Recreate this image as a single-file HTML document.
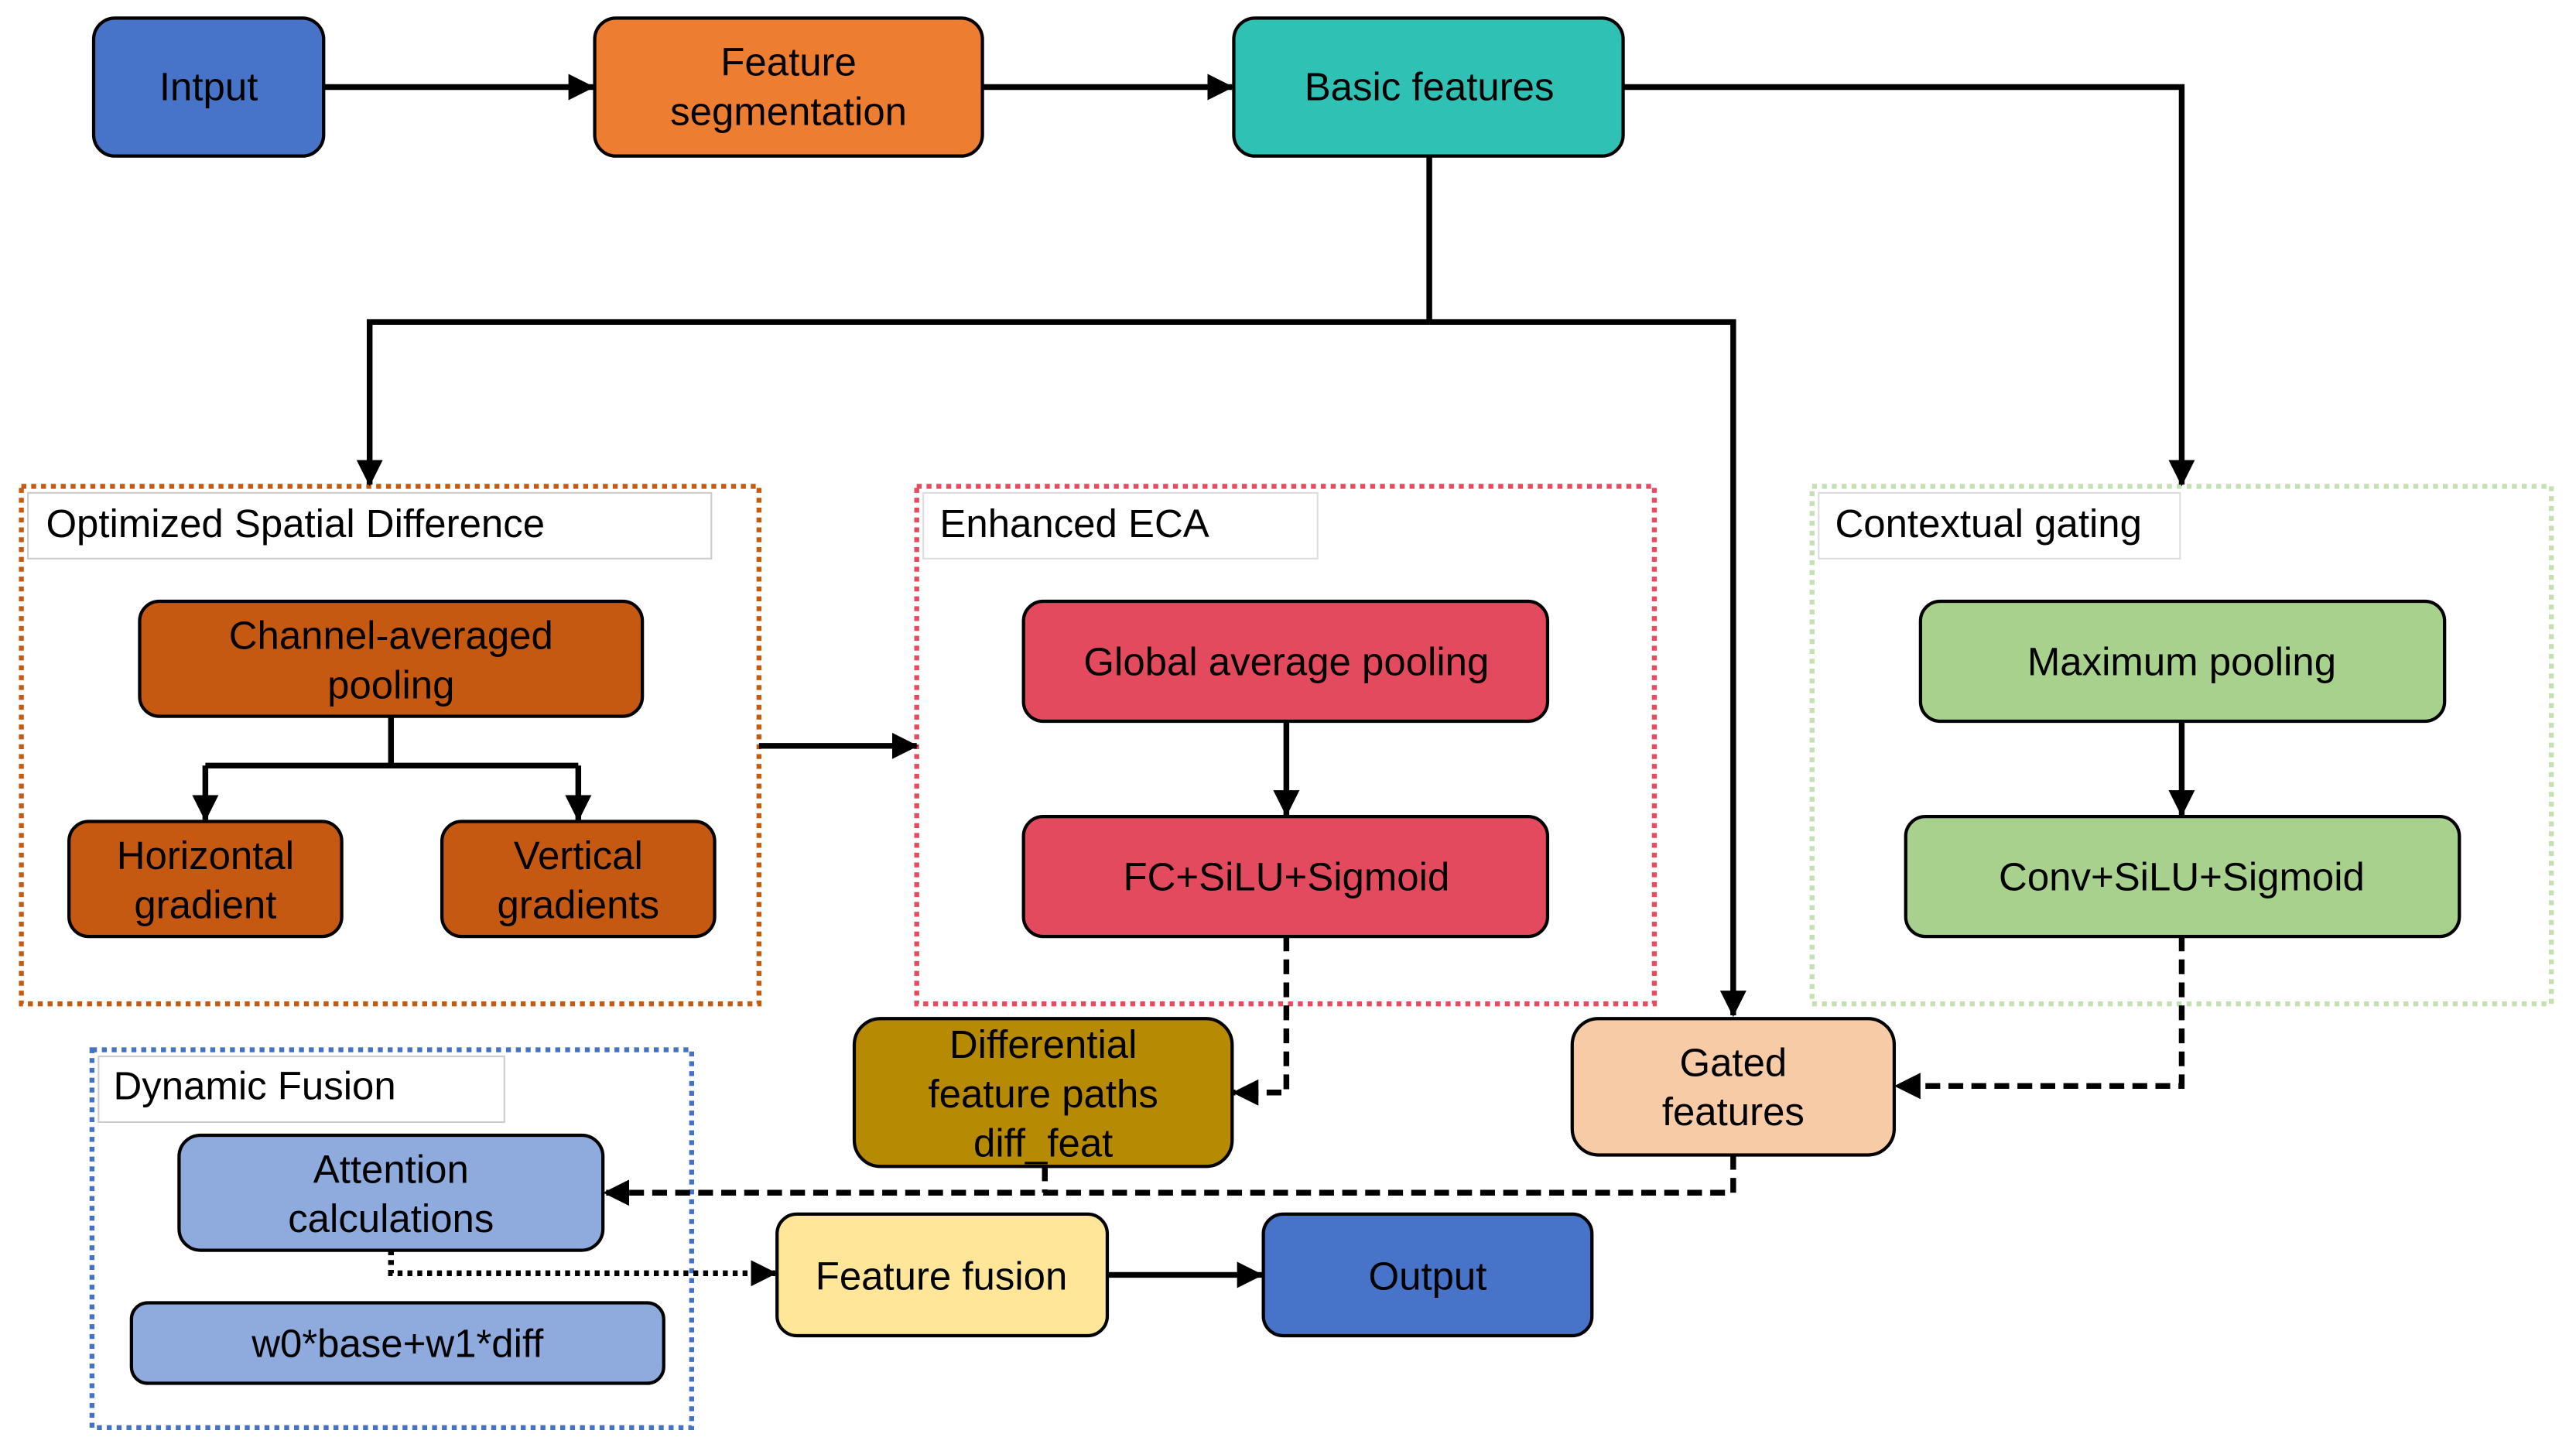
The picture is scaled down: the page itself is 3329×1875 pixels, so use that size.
<!DOCTYPE html>
<html><head><meta charset="utf-8"><style>
html,body{margin:0;padding:0;background:#fff;}
svg{display:block;}
text{font-family:"Liberation Sans",Arial,sans-serif;font-size:24px;fill:#000;}
</style></head><body>
<svg width="3329" height="1875" viewBox="0 0 1568 883.2" preserveAspectRatio="none" xmlns="http://www.w3.org/2000/svg">
<defs>
<marker id="b" markerWidth="16" markerHeight="16" refX="15" refY="8" orient="auto" markerUnits="userSpaceOnUse" viewBox="0 0 16 16">
<path d="M0,0 L16,8 L0,16 Z" fill="#000"/></marker>
</defs>

<rect x="13" y="296" width="449" height="315" fill="none" stroke="#C55A11" stroke-width="3" stroke-dasharray="3 3"/>
<rect x="17" y="300" width="416" height="40" fill="#fff" stroke="#ccc" stroke-width="1"/>
<text x="28" y="327">Optimized Spatial Difference</text>

<rect x="558" y="296" width="449" height="315" fill="none" stroke="#E84A5F" stroke-width="3" stroke-dasharray="3 3"/>
<rect x="562" y="300" width="240" height="40" fill="#fff" stroke="#ddd" stroke-width="1"/>
<text x="572" y="327">Enhanced ECA</text>

<rect x="1103" y="296" width="450" height="315" fill="none" stroke="#C5E0B4" stroke-width="3" stroke-dasharray="3 3"/>
<rect x="1107" y="300" width="220" height="40" fill="#fff" stroke="#ddd" stroke-width="1"/>
<text x="1117" y="327">Contextual gating</text>

<rect x="56" y="639" width="365" height="230" fill="none" stroke="#4472C4" stroke-width="3" stroke-dasharray="3 3"/>
<rect x="60" y="643" width="247" height="40" fill="#fff" stroke="#ccc" stroke-width="1"/>
<text x="69" y="669">Dynamic Fusion</text>

<g stroke="#000" stroke-width="3.5" fill="none">
<line x1="197" y1="53" x2="361" y2="53" marker-end="url(#b)"/>
<line x1="598" y1="53" x2="750" y2="53" marker-end="url(#b)"/>
<polyline points="988,53 1328,53 1328,295" marker-end="url(#b)"/>
<line x1="870" y1="95" x2="870" y2="196"/>
<polyline points="870,196 225,196 225,295" marker-end="url(#b)"/>
<polyline points="870,196 1055,196 1055,618" marker-end="url(#b)"/>
<line x1="238" y1="436" x2="238" y2="466"/>
<polyline points="125,466 352,466"/>
<line x1="125" y1="466" x2="125" y2="499" marker-end="url(#b)"/>
<line x1="352" y1="466" x2="352" y2="499" marker-end="url(#b)"/>
<line x1="462" y1="454" x2="558" y2="454" marker-end="url(#b)"/>
<line x1="783" y1="439" x2="783" y2="496" marker-end="url(#b)"/>
<line x1="1328" y1="439" x2="1328" y2="496" marker-end="url(#b)"/>
<line x1="674" y1="776" x2="768" y2="776" marker-end="url(#b)"/>
</g>
<g stroke="#000" stroke-width="3.5" fill="none" stroke-dasharray="9 5">
<polyline points="783,570 783,665 751,665" marker-end="url(#b)"/>
<polyline points="1328,570 1328,661 1154,661" marker-end="url(#b)"/>
<polyline points="1055,703 1055,726 368,726" marker-end="url(#b)"/>
<polyline points="636,710 636,726"/>
</g>
<polyline points="238,761 238,775 472,775" stroke="#000" stroke-width="3.5" fill="none" stroke-dasharray="3 3" marker-end="url(#b)"/>

<g stroke="#000" stroke-width="2">
<rect x="57" y="11" width="140" height="84" rx="13" fill="#4773C9"/>
<rect x="362" y="11" width="236" height="84" rx="13" fill="#ED7D31"/>
<rect x="751" y="11" width="237" height="84" rx="13" fill="#2EC1B4"/>
<rect x="85" y="366" width="306" height="70" rx="12" fill="#C65911"/>
<rect x="42" y="500" width="166" height="70" rx="12" fill="#C65911"/>
<rect x="269" y="500" width="166" height="70" rx="12" fill="#C65911"/>
<rect x="623" y="366" width="319" height="73" rx="12" fill="#E44A5E"/>
<rect x="623" y="497" width="319" height="73" rx="12" fill="#E44A5E"/>
<rect x="1169" y="366" width="319" height="73" rx="12" fill="#A9D18E"/>
<rect x="1160" y="497" width="337" height="73" rx="12" fill="#A9D18E"/>
<rect x="520" y="620" width="230" height="90" rx="16" fill="#B68A02"/>
<rect x="957" y="620" width="196" height="83" rx="16" fill="#F8CBA7"/>
<rect x="109" y="691" width="258" height="70" rx="13" fill="#8FAADC"/>
<rect x="80" y="793" width="324" height="49" rx="10" fill="#8FAADC"/>
<rect x="473" y="739" width="201" height="74" rx="12" fill="#FFE699"/>
<rect x="769" y="739" width="200" height="74" rx="12" fill="#4773C9"/>
</g>

<g text-anchor="middle">
<text x="127" y="61">Intput</text>
<text x="480" y="46">Feature</text>
<text x="480" y="76">segmentation</text>
<text x="870" y="61">Basic features</text>
<text x="238" y="395">Channel-averaged</text>
<text x="238" y="425">pooling</text>
<text x="125" y="529">Horizontal</text>
<text x="125" y="559">gradient</text>
<text x="352" y="529">Vertical</text>
<text x="352" y="559">gradients</text>
<text x="783" y="411">Global average pooling</text>
<text x="783" y="542">FC+SiLU+Sigmoid</text>
<text x="1328" y="411">Maximum pooling</text>
<text x="1328" y="542">Conv+SiLU+Sigmoid</text>
<text x="635" y="644">Differential</text>
<text x="635" y="674">feature paths</text>
<text x="635" y="704">diff_feat</text>
<text x="1055" y="655">Gated</text>
<text x="1055" y="685">features</text>
<text x="238" y="720">Attention</text>
<text x="238" y="750">calculations</text>
<text x="242" y="826">w0*base+w1*diff</text>
<text x="573" y="785">Feature fusion</text>
<text x="869" y="785">Output</text>
</g>
</svg>
</body></html>
